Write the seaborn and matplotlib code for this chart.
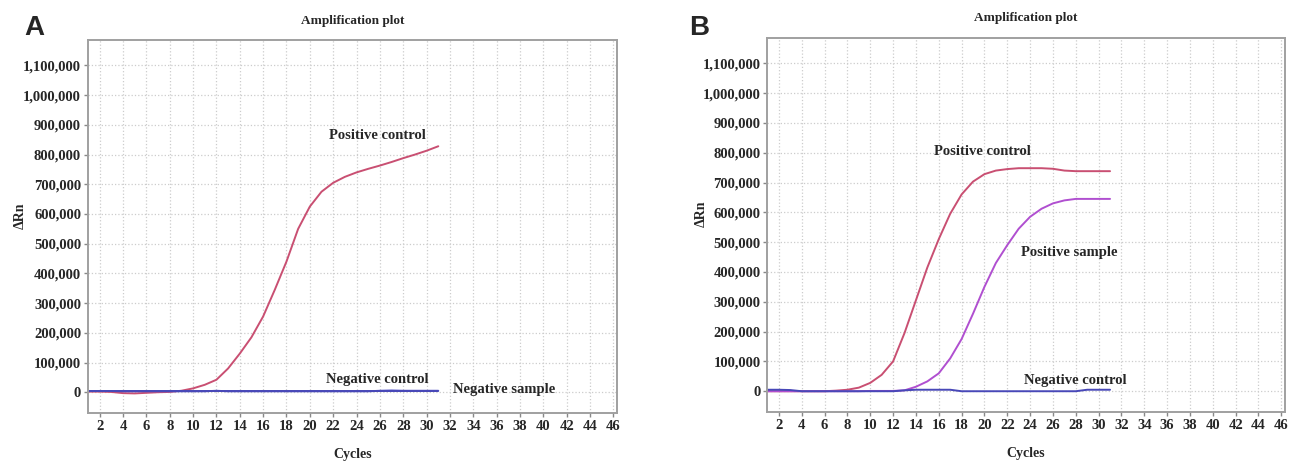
import numpy as np
import pandas as pd
import seaborn as sns
import matplotlib.pyplot as plt

# cycles 1..31
cycles = list(range(1, 32))

# panel A
a_pos_control = [2000, 2000, 1000, -3000, -4000, -2000, 0, 1000, 5000, 13000,
                 25000, 42000, 80000, 130000, 185000, 255000, 345000, 440000, 550000, 625000,
                 675000, 705000, 725000, 740000, 752000, 763000, 775000, 788000, 800000, 813000,
                 828000]
a_neg_control = [5000] * 31
a_neg_sample = [4000, 4000, 4000, 3000, 3000, 3000, 3000, 3000, 3000, 3000,
                3000, 5000, 3000, 3000, 3000, 3000, 3000, 3000, 3000, 3000,
                3000, 3000, 3000, 3000, 3000, 5000, 6000, 5000, 5000, 5000,
                5000]

# panel B
b_pos_control = [0, 0, 0, 0, 0, 0, 2000, 5000, 12000, 28000,
                 55000, 100000, 195000, 305000, 415000, 510000, 595000, 660000, 703000, 728000,
                 740000, 745000, 748000, 748000, 748000, 746000, 740000, 738000, 738000, 738000,
                 738000]
b_pos_sample = [0, 0, 0, 0, 0, 0, 0, 0, 0, 1000,
                1000, 1000, 3000, 15000, 33000, 60000, 110000, 175000, 260000, 350000,
                430000, 490000, 545000, 585000, 612000, 630000, 640000, 645000, 645000, 645000,
                645000]
b_neg_control = [5000, 5000, 4000, 0, 0, 0, 0, 0, 0, 0,
                 0, 0, 3000, 5000, 5000, 5000, 5000, 0, 0, 0,
                 0, 0, 0, 0, 0, 0, 0, 0, 5000, 5000,
                 5000]

y_ticks = list(range(0, 1100001, 100000))
x_ticks = list(range(2, 47, 2))

colors = {'Positive control': '#c94f72', 'Positive sample': '#b04fd0',
          'Negative control': '#4848b8', 'Negative sample': '#5a5ac8'}

sns.set_style("white")
plt.rcParams['font.family'] = ['Liberation Serif', 'DejaVu Serif']

fig = plt.figure(figsize=(13.03, 4.62), dpi=100)
ax_a = fig.add_axes([0.0675, 0.106, 0.406, 0.807])
ax_b = fig.add_axes([0.589, 0.108, 0.397, 0.810])


def make_df(series):
    rows = []
    for name, vals in series.items():
        for c, v in zip(cycles, vals):
            rows.append(dict(Cycle=c, Rn=v, Sample=name))
    return pd.DataFrame(rows)


def style_axes(ax):
    ax.set_xlim(1, 46.3)
    ax.set_ylim(-70000, 1185000)
    ax.set_yticks(y_ticks)
    ax.set_yticklabels([f'{t:,}' for t in y_ticks], fontsize=10.5, fontweight='bold')
    ax.set_xticks(x_ticks)
    ax.set_xticklabels([str(t) for t in x_ticks], fontsize=10.5, fontweight='bold')
    ax.grid(True, color='#cccccc', linestyle=':', linewidth=0.9)
    for s in ax.spines.values():
        s.set_color('#a0a0a0')
        s.set_linewidth(1.4)
    ax.tick_params(axis='both', length=3, width=1, color='#888888', pad=2, direction='out')
    ax.tick_params(axis='both', which='both', bottom=True, left=True)
    ax.set_xlabel('Cycles', fontsize=10, fontweight='bold', labelpad=11)
    ax.set_ylabel('ΔRn', fontsize=10, fontweight='bold')
    ax.yaxis.set_label_coords(-0.116, 0.53)
    ax.set_title('Amplification plot', fontsize=9.5, fontweight='bold', pad=12)
    leg = ax.get_legend()
    if leg is not None:
        leg.remove()


df_a = make_df({'Positive control': a_pos_control,
                'Negative sample': a_neg_sample,
                'Negative control': a_neg_control})
sns.lineplot(data=df_a, x='Cycle', y='Rn', hue='Sample', palette=colors,
             linewidth=1.4, ax=ax_a)
style_axes(ax_a)
ax_a.text(25.8, 864000, 'Positive control', fontsize=10.5, fontweight='bold', ha='center', va='center')
ax_a.text(25.8, 44000, 'Negative control', fontsize=10.5, fontweight='bold', ha='center', va='center')
ax_a.text(36.6, 10000, 'Negative sample', fontsize=10.5, fontweight='bold', ha='center', va='center')

df_b = make_df({'Positive control': b_pos_control,
                'Positive sample': b_pos_sample,
                'Negative control': b_neg_control})
sns.lineplot(data=df_b, x='Cycle', y='Rn', hue='Sample', palette=colors,
             linewidth=1.4, ax=ax_b)
style_axes(ax_b)
ax_b.text(19.8, 803000, 'Positive control', fontsize=10.5, fontweight='bold', ha='center', va='center')
ax_b.text(27.4, 465000, 'Positive sample', fontsize=10.5, fontweight='bold', ha='center', va='center')
ax_b.text(28.0, 37000, 'Negative control', fontsize=10.5, fontweight='bold', ha='center', va='center')

fig.text(0.019, 0.925, 'A', fontsize=20, fontweight='bold', family='Liberation Sans')
fig.text(0.529, 0.925, 'B', fontsize=20, fontweight='bold', family='Liberation Sans')

fig.savefig('out.png', dpi=100)
